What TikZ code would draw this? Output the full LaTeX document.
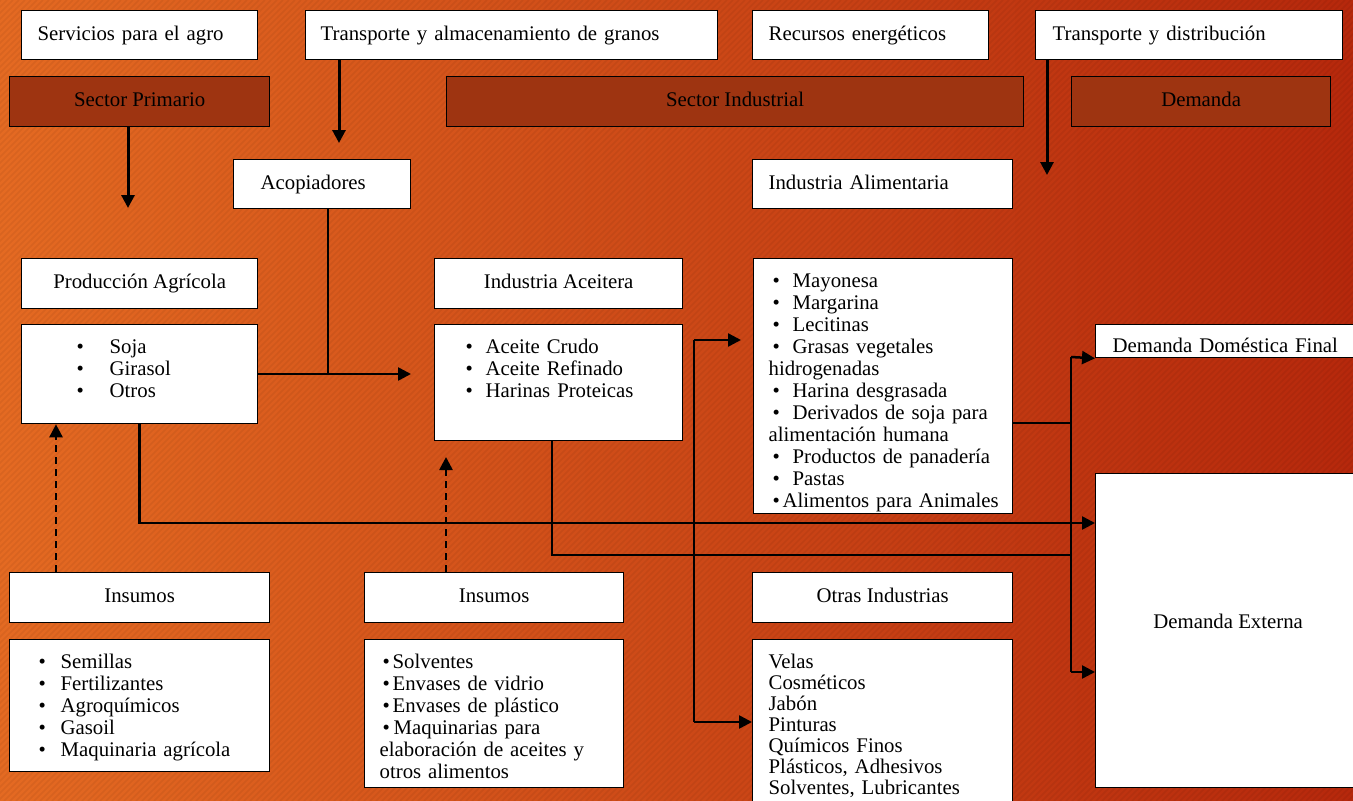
\documentclass[tikz,border=0pt]{standalone}
\usepackage{fontspec}
\setmainfont{Liberation Serif}
\usetikzlibrary{arrows.meta}

\definecolor{fondoizq}{RGB}{228,106,34}
\definecolor{fondoder}{RGB}{182,40,12}
\definecolor{sectorcol}{RGB}{158,52,17}

\newcommand{\vin}[2]{\hspace*{#1pt}\makebox[#2pt][l]{\textbullet}}

\tikzset{
  caja/.style={draw=black, line width=1.3pt, fill=white, anchor=north west,
    inner sep=0pt, text height=15pt, text depth=5pt},
  sector/.style={caja, fill=sectorcol},
  izq/.style={align=left},
  lista/.style={caja, align=left, text height=29pt},
  flecha/.style={-{Triangle[length=13pt,width=13pt]}},
  grueso/.style={line width=3pt},
  medio/.style={line width=2.5pt},
  fino/.style={line width=1.3pt},
  punteada/.style={line width=2.6pt, dash pattern=on 7pt off 5pt, flecha},
  rayas/.style={line width=1.5pt, draw=black, draw opacity=0.05}
}

\begin{document}
\begin{tikzpicture}[x=1pt, y=-1pt, font=\fontsize{20.8pt}{22pt}\selectfont]

\useasboundingbox (0,0) rectangle (1353,801);
\clip (0,0) rectangle (1353,801);
\shade[left color=fondoizq, right color=fondoder] (0,0) rectangle (1353,801);
\foreach \i in {-800,-794,...,1353}
  \draw[rayas] (\i,801) -- ++(801,-801);

%servicios
\node[caja, izq, text width=204pt, inner xsep=16pt, minimum height=49pt] (serv) at (21,10) {Servicios para el agro};
\node[caja, izq, text width=382pt, inner xsep=15pt, minimum height=49pt] (transp) at (305,10) {Transporte y almacenamiento de granos};
\node[caja, izq, text width=204pt, inner xsep=16pt, minimum height=49pt] (recur) at (752,10) {Recursos energéticos};
\node[caja, izq, text width=273pt, inner xsep=17pt, minimum height=49pt] (transd) at (1035,10) {Transporte y distribución};

%sectores
\node[sector, minimum width=260pt, minimum height=50pt] (secp) at (9,76) {Sector Primario};
\node[sector, minimum width=577pt, minimum height=50pt] (seci) at (446,76) {Sector Industrial};
\node[sector, minimum width=259pt, minimum height=50pt] (dem) at (1071,76) {Demanda};

\node[caja, izq, text width=123pt, inner xsep=27pt, minimum height=49pt] (acop) at (233,159) {Acopiadores};
\node[caja, izq, text width=228pt, inner xsep=16pt, minimum height=49pt] (alim) at (752,159) {Industria Alimentaria};

\node[caja, minimum width=236pt, minimum height=50pt] (prod) at (21,258) {\mbox{Producción Agrícola}};
\node[caja, minimum width=248pt, minimum height=50pt] (aceit) at (434,258) {Industria Aceitera};

\node[lista, text width=206pt, inner xsep=15pt, text depth=70pt] (sojalist) at (21,324)
  {\vin{40}{33}Soja\\\vin{40}{33}Girasol\\\vin{40}{33}Otros};
\node[lista, text width=218pt, inner xsep=15pt, text depth=87pt] (aceitelist) at (434,324)
  {\vin{16}{20}Aceite Crudo\\\vin{16}{20}Aceite Refinado\\\vin{16}{20}Harinas Proteicas};
\node[lista, text width=229pt, inner xsep=15pt, text depth=226pt] (alimlist) at (753,258)
  {\vin{4}{20}Mayonesa\\\vin{4}{20}Margarina\\\vin{4}{20}Lecitinas\\
   \vin{4}{20}Grasas vegetales\\hidrogenadas\\\vin{4}{20}Harina desgrasada\\
   \vin{4}{20}\mbox{Derivados de soja para}\\\mbox{alimentación humana}\\
   \vin{4}{20}\mbox{Productos de panadería}\\\vin{4}{20}Pastas\\
   \vin{4}{10}\mbox{Alimentos para Animales}};

%demanda
\node[caja, izq, text width=231pt, inner xsep=17pt, minimum height=33pt,
  text height=28pt, text depth=5pt] (domfin) at (1095,324) {\mbox{Demanda Doméstica Final}};
\node[caja, minimum width=265pt, minimum height=314pt, text depth=19pt] (demext) at (1095,473) {Demanda Externa};

%insumos
\node[caja, minimum width=260pt, minimum height=50pt] (ins1) at (9,572) {Insumos};
\node[caja, minimum width=259pt, minimum height=50pt] (ins2) at (364,572) {Insumos};
\node[caja, minimum width=260pt, minimum height=50pt] (otras) at (752,572) {Otras Industrias};

\node[lista, text width=230pt, inner xsep=15pt, text depth=103pt] (semil) at (9,639)
  {\vin{14}{22}Semillas\\\vin{14}{22}Fertilizantes\\\vin{14}{22}Agroquímicos\\
   \vin{14}{22}Gasoil\\\vin{14}{22}\mbox{Maquinaria agrícola}};
\node[lista, text width=229pt, inner xsep=15pt, text depth=119pt] (solv) at (364,639)
  {\vin{3}{10}Solventes\\\vin{3}{10}Envases de vidrio\\\vin{3}{10}Envases de plástico\\
   \vin{3}{11}Maquinarias para\\\mbox{elaboración de aceites y}\\otros alimentos};
\node[lista, text width=228pt, inner xsep=16pt, text depth=141pt,
  font=\fontsize{20.8pt}{21pt}\selectfont] (velas) at (752,639)
  {Velas\\Cosméticos\\Jabón\\Pinturas\\Químicos Finos\\Plásticos, Adhesivos\\Solventes, Lubricantes};

%flechas de arriba
\coordinate (f1) at (128,208);
\coordinate (f2) at (339,143);
\coordinate (f3) at (1047,175);
\draw[grueso, flecha] (secp.south -| f1) -- (f1);
\draw[grueso, flecha] (transp.south -| f2) -- (f2);
\draw[grueso, flecha] (transd.south -| f3) -- (f3);

%granos
\coordinate (j1) at (328,374);
\draw[fino] (acop.south -| j1) -- (j1);
\draw[medio, flecha, shorten >=23pt] (sojalist.east |- j1) -- (aceitelist.west |- j1);

%insumos
\coordinate (d1) at (56,0);
\coordinate (d2) at (446,457);
\draw[punteada] (ins1.north -| d1) -- (sojalist.south -| d1);
\draw[punteada] (ins2.north -| d2) -- (d2);

%exportacion
\coordinate (e1) at (0,523);
\draw[medio, flecha] (sojalist.south) |- (demext.west |- e1);

\coordinate (e2) at (552,555);
\coordinate (v2) at (1071,555);
\draw[fino] (aceitelist.south -| e2) -- (e2) -- (v2);

\coordinate (a1) at (694,340);
\coordinate (a2) at (694,722);
\draw[fino] (a1) -- (a2);
\draw[medio, flecha, shorten >=12pt] (a1) -- (alimlist.west |- a1);
\draw[medio, flecha] (a2) -- (velas.west |- a2);

\coordinate (b1) at (1071,423);
\coordinate (b2) at (1071,357);
\coordinate (b3) at (1071,672);
\draw[fino] (alimlist.east |- b1) -- (b1);
\draw[fino] (b2) -- (b3);
\draw[medio, flecha] (b2) -- (domfin.south west);
\draw[medio, flecha] (b3) -- (demext.west |- b3);

\end{tikzpicture}
\end{document}
